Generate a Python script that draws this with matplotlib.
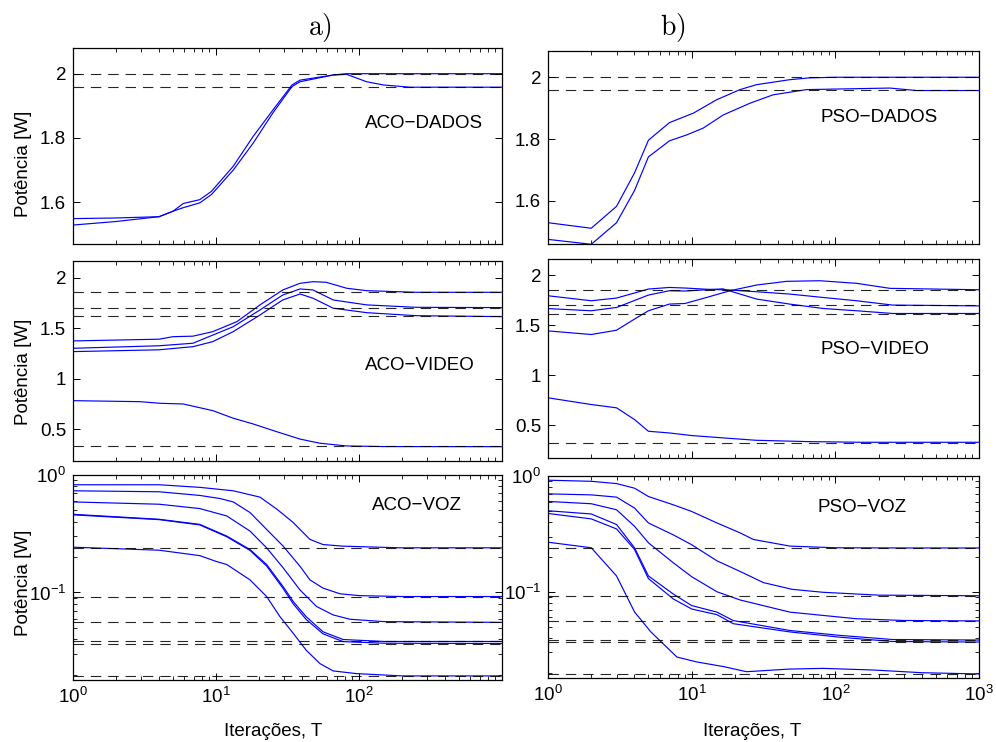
import matplotlib
matplotlib.use('Agg')
import matplotlib.pyplot as plt
from matplotlib.ticker import LogLocator, NullFormatter, FixedLocator

plt.rcParams['font.family'] = ['Liberation Sans', 'DejaVu Sans']
plt.rcParams['mathtext.fontset'] = 'custom'
plt.rcParams['mathtext.rm'] = 'Liberation Sans'
plt.rcParams['mathtext.it'] = 'Liberation Sans:italic'
plt.rcParams['lines.scale_dashes'] = False

# ---- data ----
# optimal values (dashed lines)
dados_opt = [2.0, 1.958]
video_opt = [1.854, 1.70, 1.615, 0.327]
voz_opt = [0.239, 0.0924, 0.056, 0.0383, 0.0368, 0.0195]

# a) ACO - DADOS
aco_dados_x1 = [1, 2, 4, 5, 5.9, 7.7, 9.3, 13.2, 18.2, 25, 34, 38.7, 66, 82, 150, 1000]
aco_dados_y1 = [1.529, 1.540, 1.555, 1.572, 1.583, 1.598, 1.624, 1.700, 1.784, 1.878, 1.960, 1.975, 1.996, 2.0, 2.0, 2.0]
aco_dados_x2 = [1, 2, 4, 5, 5.9, 7.7, 9.3, 13.2, 18.2, 25, 34, 38.7, 66, 82, 113, 148, 227, 1000]
aco_dados_y2 = [1.549, 1.551, 1.555, 1.572, 1.596, 1.608, 1.634, 1.712, 1.805, 1.887, 1.965, 1.980, 1.996, 1.998, 1.975, 1.965, 1.958, 1.958]

# b) PSO - DADOS
pso_dados_x1 = [1, 2, 3, 4, 5, 7, 10.3, 14.9, 21.7, 28.3, 48, 66, 100, 1000]
pso_dados_y1 = [1.529, 1.511, 1.582, 1.69, 1.796, 1.853, 1.884, 1.927, 1.960, 1.976, 1.992, 1.998, 2.0, 2.0]
pso_dados_x2 = [1, 2, 3, 4, 5, 7, 9.2, 12, 16.6, 25.5, 36.8, 63, 240, 368, 1000]
pso_dados_y2 = [1.475, 1.459, 1.529, 1.633, 1.742, 1.794, 1.813, 1.835, 1.878, 1.916, 1.943, 1.960, 1.965, 1.957, 1.957]

# a) ACO - VIDEO
aco_video_x1 = [1, 4, 5, 6.9, 9.5, 14, 20.3, 29.3, 38.7, 47.7, 59, 82, 113, 250, 1000]
aco_video_y1 = [1.373, 1.39, 1.415, 1.42, 1.465, 1.564, 1.73, 1.878, 1.944, 1.96, 1.954, 1.895, 1.871, 1.855, 1.855]
aco_video_x2 = [1, 4, 6.9, 13.2, 20.3, 29.3, 38.7, 47.7, 66, 113, 252, 1000]
aco_video_y2 = [1.30, 1.325, 1.35, 1.514, 1.68, 1.828, 1.888, 1.878, 1.779, 1.73, 1.706, 1.703]
aco_video_x3 = [1, 4, 6.9, 9.5, 13.2, 20.3, 29.3, 38.7, 47.7, 66, 113, 252, 1000]
aco_video_y3 = [1.267, 1.285, 1.316, 1.366, 1.465, 1.63, 1.779, 1.838, 1.796, 1.697, 1.653, 1.623, 1.614]
aco_video_x4 = [1, 2.94, 4.06, 5.9, 9.5, 13.2, 18.2, 26.5, 38.7, 53.4, 82, 150, 1000]
aco_video_y4 = [0.781, 0.771, 0.755, 0.748, 0.682, 0.607, 0.55, 0.474, 0.40, 0.359, 0.332, 0.326, 0.325]

# b) PSO - VIDEO
pso_video_x1 = [1, 2, 3, 4, 5, 7, 9, 12.7, 18.5, 28.3, 45.8, 78, 141, 240, 1000]
pso_video_y1 = [1.442, 1.406, 1.449, 1.56, 1.643, 1.71, 1.716, 1.776, 1.843, 1.90, 1.937, 1.943, 1.917, 1.867, 1.853]
pso_video_x2 = [1, 2, 3, 5, 7, 9, 12.7, 18.5, 28.3, 48, 82, 141, 250, 1000]
pso_video_y2 = [1.793, 1.743, 1.77, 1.86, 1.876, 1.87, 1.858, 1.850, 1.833, 1.81, 1.776, 1.743, 1.70, 1.692]
pso_video_x3 = [1, 2, 3, 5, 7, 9, 12.7, 16.5, 28.3, 48, 82, 141, 250, 1000]
pso_video_y3 = [1.665, 1.643, 1.676, 1.80, 1.843, 1.84, 1.853, 1.862, 1.76, 1.71, 1.666, 1.643, 1.616, 1.616]
pso_video_x4 = [1, 2, 3, 4, 5, 7, 10, 16.5, 28, 63, 150, 1000]
pso_video_y4 = [0.774, 0.707, 0.674, 0.557, 0.44, 0.423, 0.397, 0.374, 0.35, 0.337, 0.33, 0.33]

# a) ACO - VOZ
aco_voz_x1 = [1, 4, 7.7, 13.2, 20.3, 26.7, 34.5, 45.4, 56, 77, 194, 1000]
aco_voz_y1 = [0.826, 0.826, 0.785, 0.734, 0.648, 0.511, 0.396, 0.283, 0.256, 0.248, 0.240, 0.240]
aco_voz_x2 = [1, 4, 7.7, 10.7, 13.2, 17.3, 22.6, 29.5, 38.7, 45.4, 56, 73.6, 101, 200, 1000]
aco_voz_y2 = [0.734, 0.72, 0.67, 0.63, 0.59, 0.479, 0.344, 0.248, 0.167, 0.128, 0.109, 0.0975, 0.094, 0.0924, 0.0924]
aco_voz_x3 = [1, 4, 7.7, 11.9, 17.3, 22.6, 29.5, 38.7, 50.5, 66, 86.5, 150, 1000]
aco_voz_y3 = [0.59, 0.564, 0.518, 0.448, 0.333, 0.24, 0.162, 0.105, 0.076, 0.0644, 0.0592, 0.0565, 0.0557]
aco_voz_x4 = [1, 4, 7.7, 11.9, 17.3, 22.6, 29.5, 34.7, 42.7, 56, 77.4, 150, 1000]
aco_voz_y4 = [0.463, 0.42, 0.38, 0.302, 0.232, 0.173, 0.112, 0.0837, 0.0623, 0.0463, 0.0398, 0.0383, 0.0383]
aco_voz_x5 = [1, 4, 7.7, 11.9, 17.3, 22.6, 29.5, 34.7, 42.7, 56, 77.4, 150, 1000]
aco_voz_y5 = [0.458, 0.417, 0.376, 0.298, 0.228, 0.168, 0.108, 0.080, 0.059, 0.0445, 0.0382, 0.0370, 0.0368]
aco_voz_x6 = [1, 4, 7.7, 10, 11.9, 17.3, 22.6, 28, 34.7, 42.7, 53.4, 66, 96, 200, 1000]
aco_voz_y6 = [0.243, 0.229, 0.206, 0.184, 0.173, 0.128, 0.0924, 0.0623, 0.0449, 0.0323, 0.0248, 0.0215, 0.0204, 0.0195, 0.0195]

# b) PSO - VOZ
pso_voz_x1 = [1, 2, 3, 4, 5, 7.45, 10, 15, 21.7, 26.9, 48.3, 100, 300, 1000]
pso_voz_y1 = [0.92, 0.90, 0.86, 0.785, 0.665, 0.564, 0.494, 0.393, 0.323, 0.283, 0.248, 0.24, 0.239, 0.239]
pso_voz_x2 = [1, 2, 3, 4, 5, 7.45, 10, 15, 21.7, 31.6, 50, 82, 200, 1000]
pso_voz_y2 = [0.701, 0.687, 0.657, 0.529, 0.393, 0.31, 0.255, 0.185, 0.15, 0.12, 0.105, 0.099, 0.0935, 0.0924]
pso_voz_x3 = [1, 2, 3, 4, 5, 7.45, 10, 15, 21.7, 48.3, 140, 300, 1000]
pso_voz_y3 = [0.603, 0.576, 0.511, 0.368, 0.265, 0.178, 0.135, 0.1, 0.085, 0.0667, 0.0585, 0.0565, 0.056]
pso_voz_x4 = [1, 2, 3, 4, 5, 7.45, 10, 15, 19.5, 48.3, 108, 250, 1000]
pso_voz_y4 = [0.501, 0.47, 0.381, 0.24, 0.137, 0.0956, 0.076, 0.0667, 0.0564, 0.0463, 0.042, 0.0387, 0.0383]
pso_voz_x5 = [1, 2, 3, 4, 5, 7.45, 10, 15, 19.5, 48.3, 108, 250, 1000]
pso_voz_y5 = [0.475, 0.426, 0.349, 0.232, 0.13, 0.0867, 0.071, 0.0634, 0.053, 0.045, 0.0405, 0.0372, 0.0368]
pso_voz_x6 = [1, 2, 3, 4, 5.2, 7.9, 10.8, 16.6, 24.1, 48, 82, 184, 400, 1000]
pso_voz_y6 = [0.268, 0.24, 0.137, 0.067, 0.045, 0.0273, 0.0248, 0.0226, 0.0204, 0.0215, 0.0218, 0.0211, 0.0200, 0.0195]

W, H = 996, 742
fig = plt.figure(figsize=(W / 100, H / 100), dpi=100)


def box(x0, y0, x1, y1):
    # pixel box -> figure fraction
    return [x0 / W, 1 - y1 / H, (x1 - x0) / W, (y1 - y0) / H]


def setup(ax, xlim, ylog=False):
    ax.set_xscale('log')
    ax.set_xlim(*xlim)
    if ylog:
        ax.set_yscale('log')
    ax.tick_params(which='both', direction='in', top=True, right=True, labelsize=13.5, pad=5)
    ax.tick_params(which='major', length=5, width=0.7)
    ax.tick_params(which='minor', length=3, width=0.6)
    ax.xaxis.set_minor_locator(LogLocator(base=10, subs=range(2, 10), numticks=20))
    ax.xaxis.set_minor_formatter(NullFormatter())
    for s in ax.spines.values():
        s.set_linewidth(0.9)


def curves(ax, xs, ys, opt):
    for x, y in zip(xs, ys):
        ax.plot(x, y, color='#0000ff', lw=0.85)
    for v in opt:
        ax.axhline(v, color='black', lw=0.8, dashes=(7.5, 5.0), alpha=0.85)


boxes = {
    'tl': box(73, 48, 502, 244), 'tr': box(548, 51, 979, 244),
    'ml': box(73, 261, 502, 461), 'mr': box(548, 259, 979, 458),
    'bl': box(73, 475, 502, 680), 'br': box(548, 476, 979, 678),
}

ax_tl = fig.add_axes(boxes['tl'])
ax_tr = fig.add_axes(boxes['tr'])
ax_ml = fig.add_axes(boxes['ml'])
ax_mr = fig.add_axes(boxes['mr'])
ax_bl = fig.add_axes(boxes['bl'])
ax_br = fig.add_axes(boxes['br'])

left_xlim = (1, 1000)
right_xlim = (1, 1000)

# dados
setup(ax_tl, left_xlim)
curves(ax_tl, [aco_dados_x1, aco_dados_x2], [aco_dados_y1, aco_dados_y2], dados_opt)
ax_tl.set_ylim(1.47, 2.08)
setup(ax_tr, right_xlim)
curves(ax_tr, [pso_dados_x1, pso_dados_x2], [pso_dados_y1, pso_dados_y2], dados_opt)
ax_tr.set_ylim(1.46, 2.085)
for ax in (ax_tl, ax_tr):
    ax.set_yticks([1.6, 1.8, 2.0])
    ax.set_yticklabels(['1.6', '1.8', '2'])

# video
setup(ax_ml, left_xlim)
curves(ax_ml, [aco_video_x1, aco_video_x2, aco_video_x3, aco_video_x4],
       [aco_video_y1, aco_video_y2, aco_video_y3, aco_video_y4], video_opt)
ax_ml.set_ylim(0.183, 2.165)
setup(ax_mr, right_xlim)
curves(ax_mr, [pso_video_x1, pso_video_x2, pso_video_x3, pso_video_x4],
       [pso_video_y1, pso_video_y2, pso_video_y3, pso_video_y4], video_opt)
ax_mr.set_ylim(0.173, 2.16)
for ax in (ax_ml, ax_mr):
    ax.set_yticks([0.5, 1.0, 1.5, 2.0])
    ax.set_yticklabels(['0.5', '1', '1.5', '2'])

# voz
setup(ax_bl, left_xlim, ylog=True)
curves(ax_bl, [aco_voz_x1, aco_voz_x2, aco_voz_x3, aco_voz_x4, aco_voz_x5, aco_voz_x6],
       [aco_voz_y1, aco_voz_y2, aco_voz_y3, aco_voz_y4, aco_voz_y5, aco_voz_y6], voz_opt)
setup(ax_br, right_xlim, ylog=True)
curves(ax_br, [pso_voz_x1, pso_voz_x2, pso_voz_x3, pso_voz_x4, pso_voz_x5, pso_voz_x6],
       [pso_voz_y1, pso_voz_y2, pso_voz_y3, pso_voz_y4, pso_voz_y5, pso_voz_y6], voz_opt)
for ax in (ax_bl, ax_br):
    ax.set_ylim(0.018, 1.0)
    ax.yaxis.set_minor_locator(LogLocator(base=10, subs=range(2, 10), numticks=20))
    ax.yaxis.set_minor_formatter(NullFormatter())

for ax in (ax_tl, ax_tr, ax_ml, ax_mr):
    ax.tick_params(labelbottom=False)

ax_bl.xaxis.set_major_locator(FixedLocator([1, 10, 100]))
ax_br.xaxis.set_major_locator(FixedLocator([1, 10, 100, 1000]))
for ax in (ax_tl, ax_ml):
    ax.xaxis.set_major_locator(FixedLocator([1, 10, 100]))
for ax in (ax_tr, ax_mr):
    ax.xaxis.set_major_locator(FixedLocator([1, 10, 100, 1000]))

# panel names
ax_tl.text(424 / W, 1 - 123 / H, 'ACO\u2212DADOS', transform=fig.transFigure, ha='center', va='center', fontsize=13.5)
ax_tr.text(879 / W, 1 - 117 / H, 'PSO\u2212DADOS', transform=fig.transFigure, ha='center', va='center', fontsize=13.5)
ax_ml.text(420 / W, 1 - 365 / H, 'ACO\u2212VIDEO', transform=fig.transFigure, ha='center', va='center', fontsize=13.5)
ax_mr.text(875 / W, 1 - 349 / H, 'PSO\u2212VIDEO', transform=fig.transFigure, ha='center', va='center', fontsize=13.5)
ax_bl.text(417 / W, 1 - 506 / H, 'ACO\u2212VOZ', transform=fig.transFigure, ha='center', va='center', fontsize=13.5)
ax_br.text(862 / W, 1 - 507 / H, 'PSO\u2212VOZ', transform=fig.transFigure, ha='center', va='center', fontsize=13.5)

# titles a) b)
fig.text(320 / W, 1 - 27 / H, r'$\mathrm{a)}$', ha='center', va='center', fontsize=20, math_fontfamily='cm')
fig.text(673 / W, 1 - 27 / H, r'$\mathrm{b)}$', ha='center', va='center', fontsize=20, math_fontfamily='cm')

# y labels
for yc in (164, 372, 583):
    fig.text(24 / W, 1 - yc / H, 'Potência [W]', rotation=90, ha='center', va='center', fontsize=13.5)

# x labels
fig.text(273 / W, 1 - 731 / H, 'Iterações, T', ha='center', va='center', fontsize=13.5)
fig.text(752 / W, 1 - 731 / H, 'Iterações, T', ha='center', va='center', fontsize=13.5)

fig.savefig('out.png', dpi=100)
